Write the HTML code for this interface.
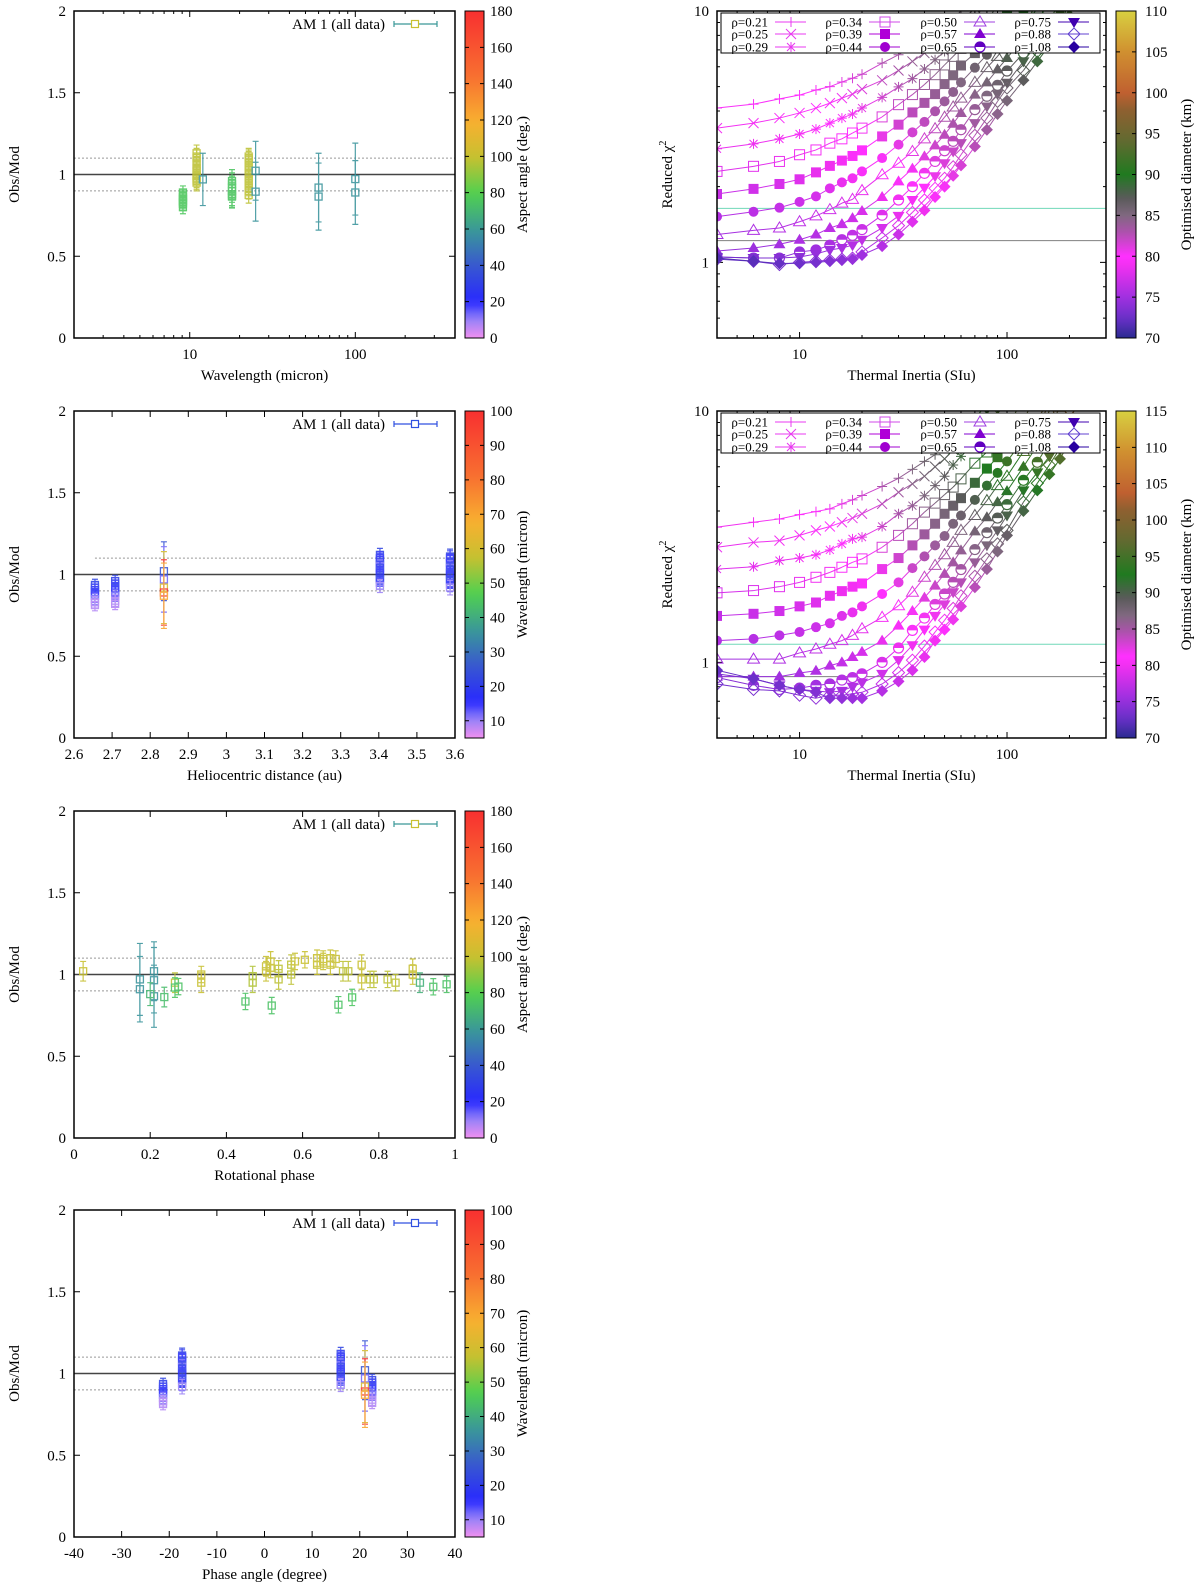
<!DOCTYPE html>
<html><head><meta charset="utf-8"><title>Obs/Mod ratios and reduced chi-square</title>
<style>
html,body{margin:0;padding:0;background:#fff;}
svg{display:block;font-family:"Liberation Serif",serif;}
</style></head>
<body>
<svg id="fig" width="1200" height="1591" viewBox="0 0 1200 1591" xmlns="http://www.w3.org/2000/svg"><defs id="defs"></defs></svg>
<script>
// ===== Panel 1 data: wavelength =====
const p1Lam=[9.1,9.1,9.1,9.1,9.1,9.1,9.1,9.1,11,11,11,11,11,11,11,11,11,11,11,11,11,11,12,18,18,18,18,18,18,18,22.7,22.7,22.7,22.7,22.7,22.7,22.7,22.7,22.7,22.7,22.7,22.7,22.7,22.7,25,25,60,60,100,100];
const p1Ratio=[0.80,0.82,0.83,0.84,0.85,0.86,0.87,0.89,0.95,0.96,0.97,0.98,0.99,1.0,1.02,1.03,1.04,1.06,1.08,1.1,1.11,1.13,0.97,0.865,0.87,0.88,0.9,0.92,0.94,0.96,0.875,0.9,0.92,0.94,0.96,0.98,1.0,1.01,1.03,1.05,1.07,1.09,1.1,1.11,1.023,0.895,0.92,0.865,0.972,0.89];
const p1Err=[0.04,0.04,0.04,0.04,0.04,0.04,0.04,0.04,0.05,0.05,0.05,0.05,0.05,0.05,0.05,0.05,0.05,0.05,0.05,0.05,0.05,0.05,0.16,0.07,0.07,0.07,0.07,0.07,0.07,0.07,0.05,0.05,0.05,0.05,0.05,0.05,0.05,0.05,0.05,0.05,0.05,0.05,0.05,0.05,0.18,0.18,0.21,0.205,0.22,0.195];
const p1Asp=[76,76,76,76,76,76,76,76,98,98,98,98,98,98,98,98,98,98,98,98,98,98,58,75,75,75,75,75,75,75,98,98,98,98,98,98,98,98,98,98,98,98,98,98,58,58,58,58,58,58];
// ===== Panel 3 data: rotational phase =====
const p3Phase=[0.024,0.173,0.173,0.21,0.21,0.21,0.2,0.237,0.265,0.265,0.274,0.334,0.334,0.45,0.469,0.469,0.504,0.504,0.516,0.516,0.519,0.537,0.537,0.57,0.57,0.58,0.606,0.638,0.638,0.654,0.654,0.673,0.673,0.687,0.694,0.706,0.72,0.73,0.755,0.755,0.777,0.787,0.823,0.844,0.889,0.889,0.908,0.943,0.978];
const p3Ratio=[1.02,0.97,0.91,1.02,0.965,0.867,0.88,0.862,0.95,0.92,0.926,1.0,0.95,0.835,0.99,0.95,1.05,1.02,1.08,1.04,0.81,1.035,0.97,1.06,1.0,1.08,1.09,1.1,1.06,1.095,1.08,1.1,1.06,1.095,0.815,1.02,1.02,0.86,1.06,0.97,0.97,0.97,0.97,0.95,1.035,1.0,0.95,0.925,0.94];
const p3Err=[0.06,0.22,0.2,0.18,0.2,0.19,0.07,0.06,0.06,0.06,0.05,0.05,0.06,0.05,0.06,0.06,0.06,0.06,0.06,0.06,0.05,0.05,0.06,0.06,0.06,0.05,0.05,0.05,0.06,0.05,0.05,0.05,0.06,0.05,0.05,0.06,0.06,0.05,0.06,0.06,0.05,0.05,0.05,0.05,0.06,0.06,0.06,0.05,0.05];
const p3Asp=[100,58,58,58,58,58,70,72,98,75,74,100,100,74,96,96,100,100,100,100,74,98,98,98,98,100,100,100,100,100,100,100,100,100,74,98,98,75,100,100,98,98,98,98,100,100,68,74,74];
// ===== Panels 2 & 4 data: per observation =====
const obsHelio=[2.655,2.655,2.655,2.655,2.655,2.655,2.655,2.655,2.708,2.708,2.708,2.708,2.708,2.708,2.708,2.708,2.836,2.836,2.836,2.836,2.836,3.403,3.403,3.403,3.403,3.403,3.403,3.403,3.403,3.403,3.403,3.403,3.403,3.403,3.403,3.587,3.587,3.587,3.587,3.587,3.587,3.587,3.587,3.587,3.587,3.587,3.587,3.587,3.587];
const obsPhase=[-21.3,-21.3,-21.3,-21.3,-21.3,-21.3,-21.3,-21.3,22.6,22.6,22.6,22.6,22.6,22.6,22.6,22.6,21.1,21.1,21.1,21.1,21.1,16.0,16.0,16.0,16.0,16.0,16.0,16.0,16.0,16.0,16.0,16.0,16.0,16.0,16.0,-17.3,-17.3,-17.3,-17.3,-17.3,-17.3,-17.3,-17.3,-17.3,-17.3,-17.3,-17.3,-17.3,-17.3];
const obsLam=[22,20,18,17,16,12,9,8.7,22,20,18,17,16,12,9,8.7,25,12,60,100,70,22,18,17,16,22,12,18,22,17,16,18,22,17,10,22,18,17,16,22,12,18,22,17,16,18,22,17,10];
const obsRatio=[0.936,0.92,0.905,0.89,0.87,0.85,0.83,0.813,0.96,0.945,0.93,0.91,0.89,0.87,0.84,0.82,1.02,0.97,0.92,0.89,0.87,1.12,1.1,1.09,1.07,1.06,1.05,1.04,1.02,1.01,1.0,0.98,0.97,0.95,0.93,1.11,1.1,1.08,1.07,1.05,1.04,1.03,1.01,1.0,0.99,0.97,0.96,0.94,0.92];
const obsErr=[0.035,0.035,0.035,0.035,0.035,0.035,0.035,0.035,0.035,0.035,0.035,0.035,0.035,0.035,0.035,0.035,0.18,0.2,0.22,0.2,0.2,0.04,0.04,0.04,0.04,0.04,0.04,0.04,0.04,0.04,0.04,0.04,0.04,0.04,0.04,0.045,0.045,0.045,0.045,0.045,0.045,0.045,0.045,0.045,0.045,0.045,0.045,0.045,0.045];
// ===== Right panels data =====
const tiGrid=[4,6,8,10,12,14,16,18,20,25,30,35,40,45,50,55,60,70,80,90,100,120,140,160,180,200];
const rhoLabels=['0.21','0.25','0.29','0.34','0.39','0.44','0.50','0.57','0.65','0.75','0.88','1.08'];
const chiA021=[4.11,4.26,4.47,4.63,4.85,5.0,5.22,5.4,5.6,6.2,6.7,7.2,7.7,8.2,8.8,9.4,10.0,11.5,13,15,17,21,25,30,35,40];
const chiA025=[3.42,3.58,3.75,3.93,4.11,4.3,4.5,4.67,4.89,5.3,5.8,6.3,6.8,7.3,7.8,8.4,9.0,10.3,11.8,13.5,15,19,23,27,32,37];
const chiA029=[2.83,2.96,3.1,3.24,3.39,3.58,3.75,3.89,4.11,4.53,4.99,5.38,5.88,6.4,6.9,7.5,8.1,9.4,10.8,12.3,14,17,21,25,29,34];
const chiA034=[2.3,2.41,2.52,2.68,2.8,2.98,3.1,3.27,3.42,3.79,4.24,4.65,5.1,5.58,6.1,6.6,7.1,8.2,9.2,10.5,12,15,18,22,26,30];
const chiA039=[1.87,1.96,2.05,2.14,2.28,2.42,2.54,2.65,2.79,3.17,3.53,3.95,4.31,4.67,5.12,5.55,6.07,6.8,7.6,8.6,9.7,11.8,14,17,20,24];
const chiA044=[1.52,1.59,1.65,1.74,1.83,1.97,2.08,2.16,2.3,2.6,2.94,3.29,3.62,3.99,4.37,4.76,5.2,5.95,6.7,7.6,8.5,10.0,12,14,17,20];
const chiA050=[1.29,1.34,1.37,1.45,1.53,1.62,1.72,1.78,1.93,2.23,2.48,2.76,3.1,3.4,3.78,4.15,4.5,5.2,5.95,6.6,7.4,8.8,10.2,12,14,16];
const chiA057=[1.11,1.14,1.18,1.23,1.29,1.37,1.42,1.5,1.6,1.82,2.1,2.36,2.64,2.92,3.22,3.56,3.93,4.65,5.2,5.86,6.5,7.8,9.2,10.8,12.5,14.5];
const chiA065=[1.05,1.04,1.04,1.1,1.12,1.17,1.23,1.28,1.35,1.54,1.77,2.0,2.26,2.52,2.78,3.03,3.37,4.05,4.58,5.06,5.77,6.8,8.0,9.3,10.7,12.3];
const chiA075=[1.05,1.04,1.04,1.05,1.08,1.12,1.14,1.17,1.23,1.37,1.53,1.77,1.98,2.2,2.48,2.76,2.98,3.58,4.17,4.67,5.18,6.3,7.4,8.6,9.8,11.2];
const chiA088=[1.03,1.01,0.98,1.0,1.01,1.02,1.03,1.04,1.1,1.25,1.4,1.58,1.77,1.97,2.16,2.4,2.68,3.2,3.75,4.37,4.94,5.8,6.9,8.0,9.2,10.5];
const chiA108=[1.04,1.01,0.99,0.99,1.0,1.01,1.02,1.03,1.07,1.16,1.29,1.45,1.61,1.82,2.0,2.21,2.43,2.89,3.37,3.89,4.4,5.3,6.3,7.3,8.4,9.6];
const diamA021=[79.5,79.6,79.8,80,80.3,80.6,81,81.4,81.8,82.8,83.6,84.2,84.8,85.2,85.6,86,86.4,87,88,89,90,91,92,93,94,95];
const diamA025=[79,79.2,79.4,79.6,79.9,80.2,80.5,80.9,81.3,82.3,83.2,84,84.6,85.1,85.5,85.9,86.3,87,88,89,90,91,92,93,94,95];
const diamA029=[78.5,78.7,79,79.3,79.6,79.9,80.2,80.5,80.9,81.8,82.7,83.5,84.3,84.9,85.4,85.8,86.2,87,88,89,90,91,92,93,94,95];
const diamA034=[78,78.2,78.5,78.8,79.1,79.4,79.7,80,80.4,81.3,82.2,83,83.8,84.5,85,85.5,86,86.8,87.8,88.8,89.8,91,92,93,94,95];
const diamA039=[77,77.3,77.6,78,78.4,78.8,79.2,79.6,80,80.8,81.6,82.4,83.2,84,84.6,85.1,85.6,86.5,87.5,88.5,89.5,90.5,91.5,92.5,93.5,94.5];
const diamA044=[76,76.3,76.7,77.1,77.5,78,78.5,79,79.5,80.2,80.9,81.6,82.3,83,83.7,84.3,84.9,85.8,86.7,87.6,88.5,89.8,91,92,93,94];
const diamA050=[75.3,75.6,76,76.4,76.8,77.2,77.6,78,78.5,79.4,80.2,81,81.7,82.4,83,83.6,84.2,85.2,86.2,87.2,88.2,89.5,90.8,92,93,94];
const diamA057=[74.5,74.8,75.2,75.6,76,76.4,76.8,77.2,77.7,78.7,79.6,80.4,81.1,81.8,82.4,83,83.6,84.6,85.6,86.6,87.6,89,90.4,91.6,92.6,93.6];
const diamA065=[73.5,73.8,74.2,74.6,75,75.5,76,76.5,77,78,79,79.8,80.5,81.2,81.8,82.4,83,84,85,86,87,88.5,90,91.3,92.4,93.4];
const diamA075=[73,73.3,73.7,74.1,74.5,75,75.5,76,76.5,77.5,78.5,79.3,80,80.7,81.3,81.9,82.5,83.5,84.5,85.5,86.5,88,89.5,90.8,92,93];
const diamA088=[72.3,72.6,73,73.4,73.8,74.3,74.8,75.3,75.8,76.8,77.8,78.7,79.5,80.2,80.8,81.4,82,83,84,85,86,87.5,89,90.3,91.5,92.5];
const diamA108=[71.5,71.8,72.2,72.6,73,73.5,74,74.5,75,76,77,78,78.8,79.6,80.3,80.9,81.5,82.5,83.5,84.5,85.5,87,88.5,89.8,91,92];
const chiB021=[3.45,3.61,3.72,3.87,3.98,4.08,4.27,4.43,4.61,5.01,5.4,5.86,6.3,6.7,7.2,7.6,8.3,9.4,10.6,12,13.5,16.5,20,24,28,33];
const chiB025=[2.87,3.0,3.05,3.2,3.35,3.47,3.61,3.75,3.9,4.27,4.75,5.13,5.5,6.0,6.45,7.0,7.5,8.6,9.8,11,12.5,15.5,18.5,22,26,30];
const chiB029=[2.35,2.4,2.54,2.6,2.68,2.8,2.96,3.1,3.15,3.47,3.9,4.2,4.6,5.05,5.5,6.1,6.6,7.5,8.6,9.8,11,13.5,16.5,20,23,27];
const chiB034=[1.89,1.93,2.0,2.08,2.18,2.28,2.39,2.5,2.58,2.87,3.2,3.56,3.96,4.3,4.65,4.98,5.37,6.2,6.87,7.8,8.8,11,13.5,16,19,22];
const chiB039=[1.53,1.56,1.6,1.67,1.73,1.84,1.92,2.0,2.06,2.35,2.6,2.92,3.23,3.56,3.9,4.2,4.5,5.18,5.9,6.55,7.5,9.3,11.5,14,16.5,19];
const chiB044=[1.22,1.24,1.28,1.32,1.38,1.43,1.53,1.58,1.67,1.87,2.08,2.37,2.64,2.92,3.18,3.56,3.84,4.43,5.05,5.67,6.3,7.7,9.3,11,13,15];
const chiB050=[1.03,1.03,1.03,1.09,1.13,1.18,1.22,1.28,1.36,1.51,1.68,1.9,2.18,2.43,2.68,3.0,3.35,3.84,4.4,5.05,5.5,6.9,8.3,10,11.8,13.8];
const chiB057=[0.877,0.877,0.877,0.907,0.926,0.97,1.0,1.05,1.1,1.22,1.4,1.6,1.81,2.02,2.25,2.5,2.79,3.32,3.78,4.34,4.8,6.0,7.3,8.8,10.3,12];
const chiB065=[0.87,0.81,0.78,0.79,0.81,0.82,0.85,0.87,0.9,1.0,1.14,1.34,1.5,1.7,1.87,2.08,2.34,2.81,3.28,3.75,4.24,5.3,6.25,7.5,8.8,10.2];
const chiB075=[0.9,0.86,0.81,0.78,0.77,0.76,0.77,0.8,0.83,0.9,1.02,1.17,1.35,1.53,1.7,1.9,2.08,2.5,2.92,3.35,3.84,4.83,5.7,6.6,7.7,9.0];
const chiB088=[0.82,0.78,0.77,0.74,0.72,0.74,0.74,0.75,0.76,0.82,0.91,1.02,1.16,1.32,1.47,1.64,1.84,2.2,2.58,2.96,3.35,4.34,5.16,6.1,7.1,8.3];
const chiB108=[0.93,0.86,0.81,0.78,0.76,0.72,0.72,0.72,0.72,0.77,0.84,0.93,1.05,1.22,1.35,1.48,1.67,1.99,2.35,2.76,3.2,4.0,4.83,5.6,6.45,7.5];
const diamB021=[80,80.3,80.6,81,81.4,81.8,82.3,82.8,83.3,84.6,85.8,87,88.2,89.2,90.2,91.2,92,93.5,95,96.5,98,100,102,104,106,108];
const diamB025=[79.5,79.8,80.1,80.5,80.9,81.3,81.8,82.3,82.8,84,85.2,86.4,87.5,88.5,89.5,90.4,91.3,93,94.5,96,97.5,99.5,101.5,103.5,105.5,107.5];
const diamB029=[79,79.3,79.6,80,80.4,80.8,81.3,81.8,82.3,83.5,84.7,85.8,87,88,89,89.9,90.8,92.5,94,95.5,97,99,101,103,105,107];
const diamB034=[78.5,78.8,79.1,79.5,79.9,80.3,80.7,81.2,81.7,82.9,84.1,85.2,86.3,87.3,88.3,89.2,90.1,91.8,93.4,95,96.5,98.5,100.5,102.5,104.5,106.5];
const diamB039=[77.5,77.8,78.2,78.6,79,79.4,79.8,80.3,80.8,82,83.2,84.3,85.4,86.4,87.4,88.3,89.2,90.9,92.5,94,95.5,97.5,99.5,101.5,103.5,105.5];
const diamB044=[76.5,76.8,77.2,77.6,78,78.5,79,79.5,80,81.2,82.3,83.4,84.4,85.4,86.3,87.2,88.1,89.8,91.4,93,94.5,96.5,98.5,100.5,102.5,104.5];
const diamB050=[75.8,76.1,76.5,76.9,77.3,77.8,78.3,78.8,79.3,80.4,81.5,82.5,83.5,84.4,85.3,86.2,87,88.7,90.3,91.8,93.3,95.5,97.5,99.5,101.5,103.5];
const diamB057=[75,75.3,75.7,76.1,76.5,77,77.5,78,78.5,79.6,80.6,81.6,82.5,83.4,84.3,85.1,85.9,87.5,89,90.5,92,94,96,98,100,102];
const diamB065=[74.3,74.6,75,75.4,75.8,76.2,76.7,77.2,77.7,78.8,79.8,80.8,81.7,82.6,83.4,84.2,85,86.5,88,89.5,91,93,95,97,99,101];
const diamB075=[73.8,74.1,74.5,74.9,75.3,75.7,76.1,76.6,77.1,78.2,79.2,80.1,81,81.8,82.6,83.4,84.2,85.7,87.2,88.7,90.1,92.1,94,96,98,100];
const diamB088=[73.2,73.5,73.9,74.3,74.7,75.1,75.5,76,76.5,77.5,78.5,79.4,80.2,81,81.8,82.6,83.4,84.9,86.4,87.8,89.2,91.2,93.1,95,97,99];
const diamB108=[72.5,72.8,73.2,73.6,74,74.4,74.8,75.3,75.8,76.8,77.8,78.7,79.5,80.3,81.1,81.9,82.6,84.1,85.6,87,88.4,90.4,92.2,94,96,98];
const chiAList=[chiA021,chiA025,chiA029,chiA034,chiA039,chiA044,chiA050,chiA057,chiA065,chiA075,chiA088,chiA108];
const diamAList=[diamA021,diamA025,diamA029,diamA034,diamA039,diamA044,diamA050,diamA057,diamA065,diamA075,diamA088,diamA108];
const chiBList=[chiB021,chiB025,chiB029,chiB034,chiB039,chiB044,chiB050,chiB057,chiB065,chiB075,chiB088,chiB108];
const diamBList=[diamB021,diamB025,diamB029,diamB034,diamB039,diamB044,diamB050,diamB057,diamB065,diamB075,diamB088,diamB108];
const chiALines=[1.64,1.22];
const chiBLines=[1.18,0.877];

// ===== styling =====
const markerTypes=['plus','cross','star','sqo','sqf','circf','trio','trif','half','trid','diao','diaf'];
const legendColors=['#e838f0','#e838f0','#e838f0','#d048e8','#b000d8','#a000d0','#a040e0','#8000d0','#6000c0','#4000b0','#6040d0','#2800a0'];
const palLeft=[[0,'#f090f0'],[0.06,'#9080f8'],[0.11,'#2828ff'],[0.22,'#3858d0'],[0.33,'#3a9898'],[0.44,'#50d050'],[0.555,'#c8c030'],[0.66,'#f8b030'],[0.8,'#f87030'],[1,'#f83030']];
const palRight=[[0,'#2a2a90'],[0.06,'#6a30c8'],[0.125,'#a030e0'],[0.22,'#f030f0'],[0.25,'#ff30ff'],[0.32,'#b050b0'],[0.375,'#806880'],[0.43,'#585a58'],[0.5,'#207a20'],[0.6,'#606a30'],[0.7,'#906030'],[0.75,'#c06030'],[0.875,'#d09030'],[1,'#d8d040']];

const NS='http://www.w3.org/2000/svg';
const svg=document.getElementById('fig');
const defs=document.getElementById('defs');
function mk(tag,attrs,parent){const e=document.createElementNS(NS,tag);for(const k in attrs)e.setAttribute(k,attrs[k]);(parent||svg).appendChild(e);return e;}
function hex(c){return [parseInt(c.substr(1,2),16),parseInt(c.substr(3,2),16),parseInt(c.substr(5,2),16)];}
function pal(stops,t){t=Math.max(0,Math.min(1,t));for(let i=1;i<stops.length;i++){if(t<=stops[i][0]){const a=stops[i-1],b=stops[i];const f=(t-a[0])/(b[0]-a[0]);const ca=hex(a[1]),cb=hex(b[1]);return 'rgb('+ca.map((v,j)=>Math.round(v+(cb[j]-v)*f)).join(',')+')';}}return stops[stops.length-1][1];}
function gradient(id,stops){const lg=mk('linearGradient',{id:id,x1:0,y1:1,x2:0,y2:0},defs);for(let i=0;i<=40;i++){const t=i/40;mk('stop',{offset:t,'stop-color':pal(stops,t)},lg);}}
gradient('gLeft',palLeft);gradient('gRight',palRight);
function txt(parent,x,y,s,size,anchor,rot){const t=mk('text',{x:x,y:y,'font-size':size,'text-anchor':anchor||'middle',fill:'#000'},parent);if(rot)t.setAttribute('transform','rotate(-90 '+x+' '+y+')');t.textContent=s;return t;}
function fmt(v){return String(Math.round(v*100)/100);}

function colorbar(g,x0,T,B,w,min,max,ticks,title,grad,labX,titleX){
  const r=mk('rect',{x:x0,y:T,width:w,height:B-T,fill:'url(#'+grad+')',stroke:'#000','stroke-width':1},g);
  
  
  ticks.forEach(v=>{const y=B-(v-min)/(max-min)*(B-T);
    const tk=mk('path',{d:`M${x0} ${y}h4M${x0+w} ${y}h-4`,stroke:'#000','stroke-width':1},g);
    
    
    const lb=txt(g,labX,y+5,String(v),15,'start');
    
    });
  const tt=txt(g,titleX,(T+B)/2,title,15,'middle',true);
  
  
}

function leftPanel(o){
  const T=o.top,B=T+327,L=74,R=455;
  const g=mk('g',{});
  
  
  const xs=v=>o.log?L+(Math.log10(v)-Math.log10(o.xmin))/(Math.log10(o.xmax)-Math.log10(o.xmin))*(R-L):L+(v-o.xmin)/(o.xmax-o.xmin)*(R-L);
  const ys=v=>B-v/2*327;
  const cp=mk('clipPath',{id:'clip'+o.name},defs);mk('rect',{x:L,y:T,width:R-L,height:B-T},cp);
  [0,0.5,1,1.5,2].forEach(v=>{const y=ys(v);
    const tk=mk('path',{d:`M${L} ${y}h6M${R} ${y}h-6`,stroke:'#000','stroke-width':1},g);
    
    
    const lb=txt(g,66,y+5,fmt(v),15,'end');
    
    });
  o.xticks.forEach(v=>{const x=xs(v);
    const tk=mk('path',{d:`M${x} ${B}v-6M${x} ${T}v6`,stroke:'#000','stroke-width':1},g);
    
    
    const lb=txt(g,x,B+21,fmt(v),15,'middle');
    
    });
  (o.minor||[]).forEach(v=>{const x=xs(v);
    const tk=mk('path',{d:`M${x} ${B}v-3M${x} ${T}v3`,stroke:'#000','stroke-width':1},g);
    
    });
  const xt=txt(g,(L+R)/2,B+42,o.xtitle,15,'middle');
  
  
  const yt=txt(g,19,(T+B)/2,'Obs/Mod',15,'middle',true);
  
  
  const dx0=o.dotStart!==undefined?xs(o.dotStart):L;
  [0.9,1.1].forEach(v=>{const l=mk('line',{x1:dx0,x2:R,y1:ys(v),y2:ys(v),stroke:'#999','stroke-width':1,'stroke-dasharray':'2,2'},g);
    
    });
  const l1=mk('line',{x1:L,x2:R,y1:ys(1),y2:ys(1),stroke:'#444','stroke-width':1.5},g);
  
  
  const dg=mk('g',{'clip-path':'url(#clip'+o.name+')',opacity:0.88},g);
  
  
  for(let i=0;i<o.x.length;i++){
    const c=pal(palLeft,(o.c[i]-o.cmin)/(o.cmax-o.cmin));
    const x=xs(o.x[i]),y=ys(o.y[i]),yt1=ys(o.y[i]+o.e[i]),yb=ys(o.y[i]-o.e[i]);
    const eb=mk('path',{d:`M${x} ${yt1}V${yb}M${x-3} ${yt1}h6M${x-3} ${yb}h6`,stroke:c,'stroke-width':1.2,fill:'none'},dg);
    
    
    const sq=mk('rect',{x:x-3.5,y:y-3.5,width:7,height:7,fill:'none',stroke:c,'stroke-width':1.3},dg);
    
    
  }
  const fr=mk('rect',{x:L,y:T,width:R-L,height:B-T,fill:'none',stroke:'#000','stroke-width':1.5},g);
  
  
  const lt=txt(g,385,T+18,'AM 1 (all data)',15,'end');
  
  
  const lbar=mk('path',{d:`M394 ${T+13}H437M394 ${T+10}v6M437 ${T+10}v6`,stroke:o.legBar,'stroke-width':1.2},g);
  
  
  const lsq=mk('rect',{x:411.5,y:T+9.5,width:7,height:7,fill:'#fff',stroke:o.legSq,'stroke-width':1.2},g);
  
  
  colorbar(g,465,T,B,19,o.cmin,o.cmax,o.cticks,o.ctitle,'gLeft',490,527);
}

function marker(g,type,x,y,c){
  const s=5;let e;
  const a={stroke:c,'stroke-width':1,fill:'none'};
  if(type==='plus')e=mk('path',Object.assign({d:`M${x-s} ${y}H${x+s}M${x} ${y-s}V${y+s}`},a),g);
  else if(type==='cross')e=mk('path',Object.assign({d:`M${x-s} ${y-s}L${x+s} ${y+s}M${x-s} ${y+s}L${x+s} ${y-s}`},a),g);
  else if(type==='star')e=mk('path',Object.assign({d:`M${x-s} ${y}H${x+s}M${x} ${y-s}V${y+s}M${x-4} ${y-4}L${x+4} ${y+4}M${x-4} ${y+4}L${x+4} ${y-4}`},a),g);
  else if(type==='sqo')e=mk('rect',Object.assign({x:x-s,y:y-s,width:2*s,height:2*s},a),g);
  else if(type==='sqf')e=mk('rect',{x:x-s,y:y-s,width:2*s,height:2*s,fill:c},g);
  else if(type==='circf')e=mk('circle',{cx:x,cy:y,r:s,fill:c},g);
  else if(type==='trio')e=mk('polygon',Object.assign({points:`${x},${y-s-1} ${x+s+1},${y+s-1} ${x-s-1},${y+s-1}`},a),g);
  else if(type==='trif')e=mk('polygon',{points:`${x},${y-s-1} ${x+s+1},${y+s-1} ${x-s-1},${y+s-1}`,fill:c},g);
  else if(type==='trid')e=mk('polygon',{points:`${x},${y+s+1} ${x+s+1},${y-s+1} ${x-s-1},${y-s+1}`,fill:c},g);
  else if(type==='diao')e=mk('polygon',Object.assign({points:`${x},${y-s-1} ${x+s+1},${y} ${x},${y+s+1} ${x-s-1},${y}`},a),g);
  else if(type==='diaf')e=mk('polygon',{points:`${x},${y-s-1} ${x+s+1},${y} ${x},${y+s+1} ${x-s-1},${y}`,fill:c},g);
  else {e=mk('g',{},g);mk('circle',{cx:x,cy:y,r:s,fill:'#fff',stroke:c,'stroke-width':1.2},e);mk('path',{d:`M${x-s} ${y}A${s} ${s} 0 0 1 ${x+s} ${y}Z`,fill:c},e);}
  
  
}

function rightPanel(o){
  const T=o.top,B=T+327,L=717,R=1106;
  const g=mk('g',{});
  
  
  const xs=v=>L+(Math.log10(v)-Math.log10(4))/(Math.log10(300)-Math.log10(4))*(R-L);
  const ys=v=>B-(Math.log10(v)-Math.log10(0.5))/(Math.log10(10)-Math.log10(0.5))*(B-T);
  const cp=mk('clipPath',{id:'clip'+o.name},defs);mk('rect',{x:L,y:T,width:R-L,height:B-T},cp);
  [1,10].forEach(v=>{const y=ys(v);
    const tk=mk('path',{d:`M${L} ${y}h6M${R} ${y}h-6`,stroke:'#000'},g);
    
    
    const lb=txt(g,709,y+5,String(v),15,'end');
    
    });
  [0.6,0.7,0.8,0.9,2,3,4,5,6,7,8,9].forEach(v=>{const y=ys(v);
    const tk=mk('path',{d:`M${L} ${y}h3M${R} ${y}h-3`,stroke:'#000'},g);
    
    });
  [10,100].forEach(v=>{const x=xs(v);
    const tk=mk('path',{d:`M${x} ${B}v-6M${x} ${T}v6`,stroke:'#000'},g);
    
    
    const lb=txt(g,x,B+21,String(v),15,'middle');
    
    });
  [4,5,6,7,8,9,20,30,40,50,60,70,80,90,200,300].forEach(v=>{const x=xs(v);
    const tk=mk('path',{d:`M${x} ${B}v-3M${x} ${T}v3`,stroke:'#000'},g);
    
    });
  const xt=txt(g,(L+R)/2,B+42,'Thermal Inertia (SIu)',15,'middle');
  
  
  const yt=txt(g,672,(T+B)/2,'Reduced χ',15,'middle',true);
  const sup=mk('tspan',{dy:-6,'font-size':10},yt);sup.textContent='2';
  
  
  const hcol=['#70d8b8','#808080'];
  o.hlines.forEach((v,i)=>{const l=mk('line',{x1:L,x2:R,y1:ys(v),y2:ys(v),stroke:hcol[i],'stroke-width':1},g);
    
    });
  const dg=mk('g',{'clip-path':'url(#clip'+o.name+')'},g);
  
  
  o.chi.forEach((arr,k)=>{
    const cg=mk('g',{},dg);
    
    
    const cols=arr.map((v,i)=>pal(palRight,(o.diam[k][i]-o.cmin)/(o.cmax-o.cmin)));
    for(let i=0;i<arr.length-1;i++){
      const seg=mk('line',{x1:xs(tiGrid[i]),y1:ys(arr[i]),x2:xs(tiGrid[i+1]),y2:ys(arr[i+1]),stroke:cols[i],'stroke-width':1},cg);
      
      
    }
    arr.forEach((v,i)=>marker(cg,markerTypes[k],xs(tiGrid[i]),ys(v),cols[i]));
  });
  const lb=mk('rect',{x:721,y:T+2,width:379,height:40,fill:'#fff',stroke:'#000','stroke-width':1},g);
  
  
  const colX=[768,862,957,1051],rowY=[T+11,T+23,T+36];
  rhoLabels.forEach((r,k)=>{const cx=colX[Math.floor(k/3)],cy=rowY[k%3];
    const lt=txt(g,cx,cy+4.5,'ρ='+r,13,'end');
    
    
    const ll=mk('line',{x1:cx+7,x2:cx+38,y1:cy,y2:cy,stroke:legendColors[k],'stroke-width':1},g);
    
    
    marker(g,markerTypes[k],cx+23,cy,legendColors[k]);});
  const fr=mk('rect',{x:L,y:T,width:R-L,height:B-T,fill:'none',stroke:'#000','stroke-width':1.5},g);
  
  
  colorbar(g,1116,T,B,20,o.cmin,o.cmax,o.cticks,'Optimised diameter (km)','gRight',1145,1191);
}

leftPanel({name:'panel-wavelength',top:11,log:true,xmin:2,xmax:400,xticks:[10,100],minor:[2,3,4,5,6,7,8,9,20,30,40,50,60,70,80,90,200,300,400],xtitle:'Wavelength (micron)',x:p1Lam,y:p1Ratio,e:p1Err,c:p1Asp,cmin:0,cmax:180,cticks:[0,20,40,60,80,100,120,140,160,180],ctitle:'Aspect angle (deg.)',legBar:'#3a9898',legSq:'#c8c030'});
leftPanel({name:'panel-heliocentric',top:411,log:false,xmin:2.6,xmax:3.6,xticks:[2.6,2.7,2.8,2.9,3,3.1,3.2,3.3,3.4,3.5,3.6],dotStart:2.655,xtitle:'Heliocentric distance (au)',x:obsHelio,y:obsRatio,e:obsErr,c:obsLam,cmin:5,cmax:100,cticks:[10,20,30,40,50,60,70,80,90,100],ctitle:'Wavelength (micron)',legBar:'#3050e0',legSq:'#3050e0'});
leftPanel({name:'panel-rotational-phase',top:811,log:false,xmin:0,xmax:1,xticks:[0,0.2,0.4,0.6,0.8,1],xtitle:'Rotational phase',x:p3Phase,y:p3Ratio,e:p3Err,c:p3Asp,cmin:0,cmax:180,cticks:[0,20,40,60,80,100,120,140,160,180],ctitle:'Aspect angle (deg.)',legBar:'#3a9898',legSq:'#c8c030'});
leftPanel({name:'panel-phase-angle',top:1210,log:false,xmin:-40,xmax:40,xticks:[-40,-30,-20,-10,0,10,20,30,40],xtitle:'Phase angle (degree)',x:obsPhase,y:obsRatio,e:obsErr,c:obsLam,cmin:5,cmax:100,cticks:[10,20,30,40,50,60,70,80,90,100],ctitle:'Wavelength (micron)',legBar:'#3050e0',legSq:'#3050e0'});
rightPanel({name:'panel-chi2-a',top:11,chi:chiAList,diam:diamAList,hlines:chiALines,cmin:70,cmax:110,cticks:[70,75,80,85,90,95,100,105,110]});
rightPanel({name:'panel-chi2-b',top:411,chi:chiBList,diam:diamBList,hlines:chiBLines,cmin:70,cmax:115,cticks:[70,75,80,85,90,95,100,105,110,115]});
</script>
</body></html>
